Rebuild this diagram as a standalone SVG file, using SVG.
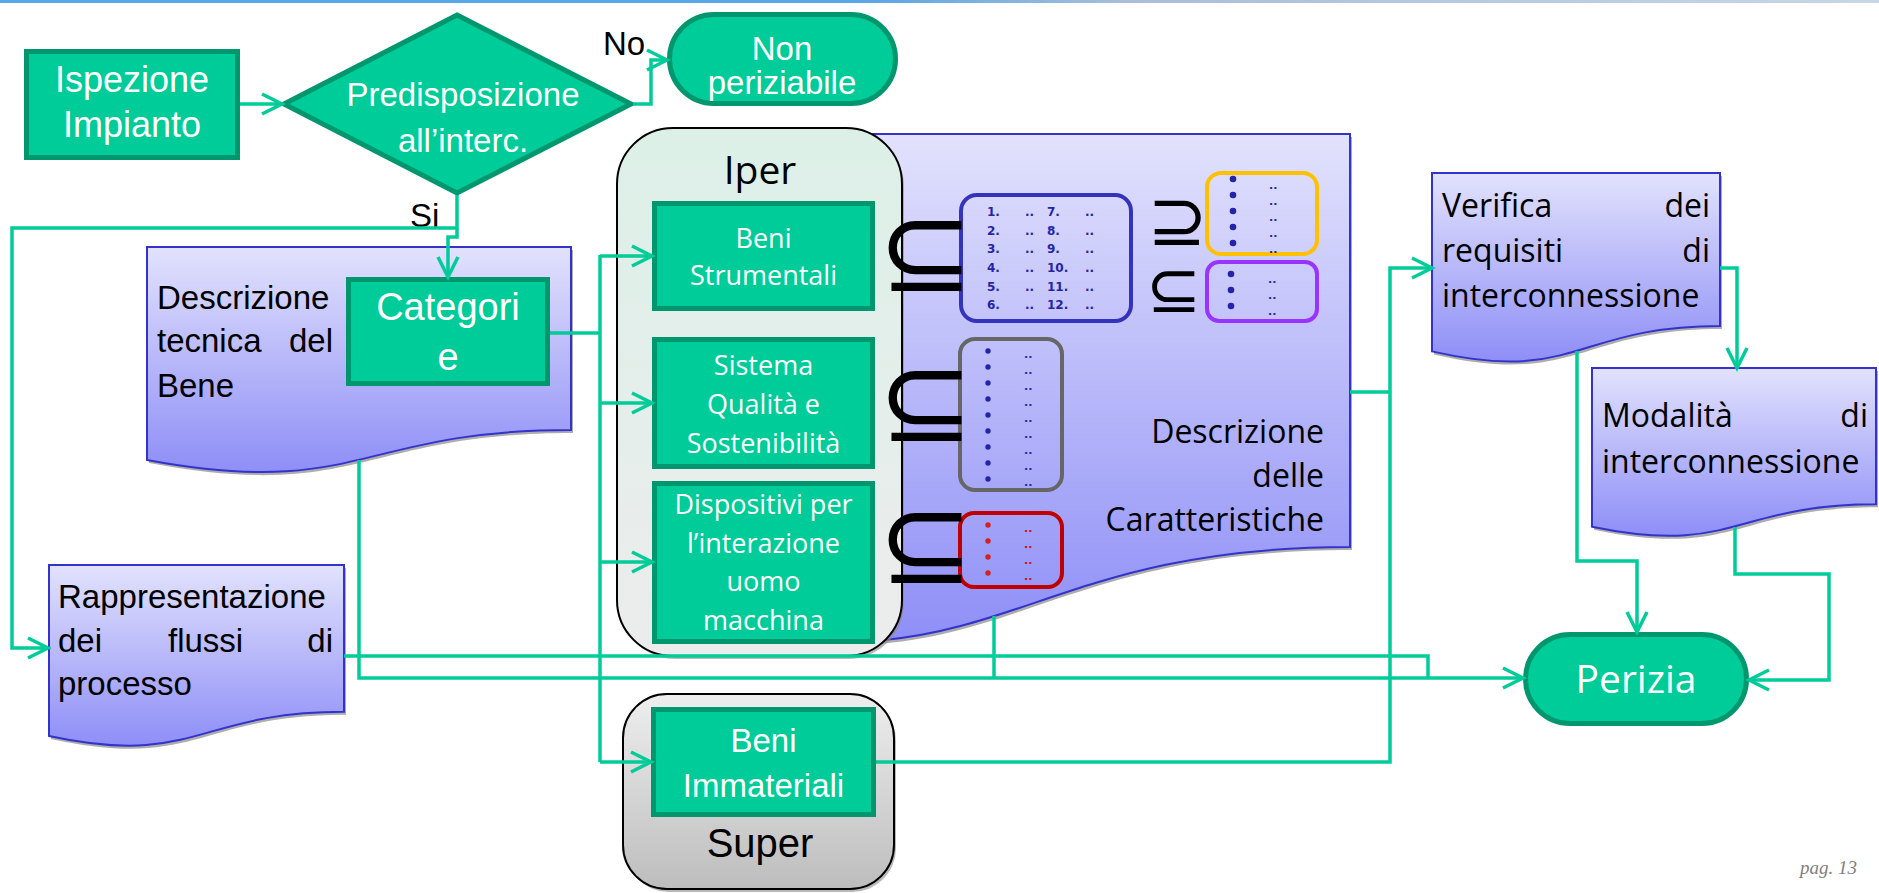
<svg xmlns="http://www.w3.org/2000/svg" width="1879" height="893" viewBox="0 0 1879 893">
<defs>
<style>
.gbox{fill:#00CC99;stroke:#00966E;stroke-width:5}
.wt{fill:#FFFFFF;font-family:"Liberation Sans",Arial,sans-serif}
.wo{fill:#FFFFFF;font-family:"Open Sans",sans-serif}
.bt{fill:#000000;font-family:"Liberation Sans",Arial,sans-serif}
.bo{fill:#000000;font-family:"Open Sans",sans-serif}
.doc{fill:url(#docg);stroke:#3333CC;stroke-width:2}
.shd{fill:#8a8a8a;opacity:0.7}
.con{fill:none;stroke:#00CC99;stroke-width:3.5}
.arr{marker-end:url(#ah)}
.sym{fill:#000;font-family:"DejaVu Sans",sans-serif}
.num{fill:#2424A8;font-family:"DejaVu Sans",sans-serif;font-size:12px;font-weight:bold}
.dd{fill:#2424A8;font-family:"DejaVu Sans",sans-serif;font-size:11px;font-weight:bold}
.ddr{fill:#CC1111;font-family:"DejaVu Sans",sans-serif;font-size:11px;font-weight:bold}
</style>
<linearGradient id="docg" x1="0" y1="0" x2="0" y2="1">
<stop offset="0" stop-color="#E2E2FD"/>
<stop offset="1" stop-color="#8E8EF7"/>
</linearGradient>
<linearGradient id="iperg" x1="0" y1="0" x2="0" y2="1">
<stop offset="0" stop-color="#DCF0E8"/>
<stop offset="1" stop-color="#ECECEC"/>
</linearGradient>
<linearGradient id="superg" x1="0" y1="0" x2="0" y2="1">
<stop offset="0" stop-color="#EEEEEE"/>
<stop offset="1" stop-color="#BDBDBD"/>
</linearGradient>
<linearGradient id="topg" x1="0" y1="0" x2="1" y2="0">
<stop offset="0" stop-color="#5AA6E6"/>
<stop offset="0.46" stop-color="#5AA6E6"/>
<stop offset="0.6" stop-color="#A8BFD8"/>
<stop offset="1" stop-color="#C8D6E6"/>
</linearGradient>
<marker id="ah" viewBox="0 0 24 24" refX="21" refY="12" markerWidth="24" markerHeight="24" orient="auto" markerUnits="userSpaceOnUse" overflow="visible">
<path d="M1,2 L21,12 L1,22" fill="none" stroke="#00CC99" stroke-width="3.5"/>
</marker>
</defs>

<rect x="0" y="0" width="1879" height="3" fill="url(#topg)"/>

<g id="descr-caratteristiche">
<path class="shd" transform="translate(2,3)" d="M650,134 H1350 V547 C1000,547 1000,704 650,615 Z"/>
<path class="doc" d="M650,134 H1350 V547 C1000,547 1000,704 650,615 Z"/>
<text class="bo" font-size="32" text-anchor="end"><tspan x="1324" y="443">Descrizione</tspan><tspan x="1324" y="487">delle</tspan><tspan x="1324" y="531">Caratteristiche</tspan></text>
</g>

<g id="iper">
<rect x="619" y="131" width="285" height="528" rx="56" fill="#8a8a8a" opacity="0.6"/>
<rect x="617" y="128" width="285" height="528" rx="56" fill="url(#iperg)" stroke="#000" stroke-width="2"/>
<text class="bo" font-size="39" x="760" y="184" text-anchor="middle">Iper</text>
</g>

<g id="beni-strumentali">
<rect class="gbox" x="654.5" y="203.5" width="218" height="105"/>
<text class="wo" font-size="27" text-anchor="middle"><tspan x="763.5" y="248">Beni</tspan><tspan x="763.5" y="285">Strumentali</tspan></text>
</g>
<g id="sistema-qualita">
<rect class="gbox" x="654.5" y="339.5" width="218" height="127"/>
<text class="wo" font-size="27" text-anchor="middle"><tspan x="763.5" y="375">Sistema</tspan><tspan x="763.5" y="414">Qualità e</tspan><tspan x="763.5" y="453">Sostenibilità</tspan></text>
</g>
<g id="dispositivi">
<rect class="gbox" x="654.5" y="483.5" width="218" height="158"/>
<text class="wo" font-size="27" text-anchor="middle"><tspan x="763.5" y="514">Dispositivi per</tspan><tspan x="763.5" y="553">l’interazione</tspan><tspan x="763.5" y="591">uomo</tspan><tspan x="763.5" y="630">macchina</tspan></text>
</g>

<g id="super">
<rect x="625" y="697" width="271" height="195" rx="44" fill="#8a8a8a" opacity="0.6"/>
<rect x="623" y="694" width="271" height="195" rx="44" fill="url(#superg)" stroke="#000" stroke-width="2"/>
<text class="bt" font-size="40" x="760" y="857" text-anchor="middle">Super</text>
</g>
<g id="beni-immateriali">
<rect class="gbox" x="653.5" y="709.5" width="220" height="105"/>
<text class="wt" font-size="33" text-anchor="middle"><tspan x="763.5" y="752">Beni</tspan><tspan x="763.5" y="797">Immateriali</tspan></text>
</g>

<g id="set-strumentali">
<rect x="961" y="195" width="170" height="126" rx="16" fill="none" stroke="#3333BB" stroke-width="4"/>
<g class="num">
<text x="987" y="216">1.</text><text x="987" y="235">2.</text><text x="987" y="253">3.</text><text x="987" y="272">4.</text><text x="987" y="291">5.</text><text x="987" y="309">6.</text>
<text x="1047" y="216">7.</text><text x="1047" y="235">8.</text><text x="1047" y="253">9.</text><text x="1047" y="272">10.</text><text x="1047" y="291">11.</text><text x="1047" y="309">12.</text>
<text x="1025" y="216">..</text><text x="1025" y="235">..</text><text x="1025" y="253">..</text><text x="1025" y="272">..</text><text x="1025" y="291">..</text><text x="1025" y="309">..</text>
<text x="1085" y="216">..</text><text x="1085" y="235">..</text><text x="1085" y="253">..</text><text x="1085" y="272">..</text><text x="1085" y="291">..</text><text x="1085" y="309">..</text>
</g>
</g>
<g id="set-yellow">
<rect x="1207" y="173" width="110" height="81" rx="14" fill="none" stroke="#FFC000" stroke-width="4"/>
<g fill="#2424A8"><circle cx="1233" cy="179" r="3.3"/><circle cx="1233" cy="195" r="3.3"/><circle cx="1233" cy="211" r="3.3"/><circle cx="1233" cy="227" r="3.3"/><circle cx="1233" cy="243" r="3.3"/></g>
<g class="dd"><text x="1269" y="189">..</text><text x="1269" y="205">..</text><text x="1269" y="221">..</text><text x="1269" y="237">..</text><text x="1269" y="253">..</text></g>
</g>
<g id="set-purple">
<rect x="1207" y="262" width="110" height="59" rx="12" fill="none" stroke="#9933FF" stroke-width="4"/>
<g fill="#2424A8"><circle cx="1231" cy="274" r="3.3"/><circle cx="1231" cy="290" r="3.3"/><circle cx="1231" cy="306" r="3.3"/></g>
<g class="dd"><text x="1268" y="283">..</text><text x="1268" y="299">..</text><text x="1268" y="315">..</text></g>
</g>
<g id="set-grey">
<rect x="960" y="339" width="102" height="151" rx="15" fill="none" stroke="#666666" stroke-width="4"/>
<g fill="#2424A8"><circle cx="988" cy="351" r="2.7"/><circle cx="988" cy="367" r="2.7"/><circle cx="988" cy="383" r="2.7"/><circle cx="988" cy="399" r="2.7"/><circle cx="988" cy="415" r="2.7"/><circle cx="988" cy="431" r="2.7"/><circle cx="988" cy="447" r="2.7"/><circle cx="988" cy="463" r="2.7"/><circle cx="988" cy="479" r="2.7"/></g>
<g class="dd"><text x="1024" y="358">..</text><text x="1024" y="374">..</text><text x="1024" y="390">..</text><text x="1024" y="406">..</text><text x="1024" y="422">..</text><text x="1024" y="438">..</text><text x="1024" y="454">..</text><text x="1024" y="470">..</text><text x="1024" y="486">..</text></g>
</g>
<g id="set-red">
<rect x="960" y="513" width="102" height="74" rx="14" fill="none" stroke="#C00000" stroke-width="4"/>
<g fill="#D42020"><circle cx="988" cy="525" r="2.7"/><circle cx="988" cy="541" r="2.7"/><circle cx="988" cy="557" r="2.7"/><circle cx="988" cy="573" r="2.7"/></g>
<g class="ddr"><text x="1024" y="532">..</text><text x="1024" y="548">..</text><text x="1024" y="564">..</text><text x="1024" y="580">..</text></g>
</g>

<g id="symbols">
<text class="sym" font-size="114" x="878" y="291" letter-spacing="-30">⊆</text>
<text class="sym" font-size="114" x="878" y="441" letter-spacing="-30">⊆</text>
<text class="sym" font-size="114" x="878" y="583" letter-spacing="-30">⊆</text>
<text class="sym" font-size="72" x="1147" y="245" letter-spacing="-15">⊇</text>
<text class="sym" font-size="66" x="1146" y="312" letter-spacing="-15">⊆</text>
</g>

<g id="descr-tecnica">
<path class="shd" transform="translate(2,3)" d="M147,247 H571 V430 C359,430 359,499.5 147,460 Z"/>
<path class="doc" d="M147,247 H571 V430 C359,430 359,499.5 147,460 Z"/>
<text class="bt" font-size="33" x="157" y="309">Descrizione</text>
<text class="bt" font-size="33" x="157" y="352">tecnica</text>
<text class="bt" font-size="33" x="333" y="352" text-anchor="end">del</text>
<text class="bt" font-size="33" x="157" y="397">Bene</text>
</g>
<g id="categorie">
<rect class="gbox" x="348.5" y="279.5" width="199" height="104"/>
<text class="wt" font-size="38" text-anchor="middle"><tspan x="448" y="320">Categori</tspan><tspan x="448" y="370">e</tspan></text>
</g>

<g id="rappresentazione">
<path class="shd" transform="translate(2,3)" d="M49,565 H344 V711.8 C196.5,711.8 196.5,767.7 49,735.9 Z"/>
<path class="doc" d="M49,565 H344 V711.8 C196.5,711.8 196.5,767.7 49,735.9 Z"/>
<text class="bt" font-size="33" x="58" y="608">Rappresentazione</text>
<text class="bt" font-size="33" x="58" y="652">dei</text>
<text class="bt" font-size="33" x="168" y="652">flussi</text>
<text class="bt" font-size="33" x="333" y="652" text-anchor="end">di</text>
<text class="bt" font-size="33" x="58" y="695">processo</text>
</g>

<g id="verifica">
<path class="shd" transform="translate(2,3)" d="M1432,173 H1720 V326 C1576,326 1576,384.5 1432,351.4 Z"/>
<path class="doc" d="M1432,173 H1720 V326 C1576,326 1576,384.5 1432,351.4 Z"/>
<text class="bo" font-size="32" x="1442" y="217">Verifica</text>
<text class="bo" font-size="32" x="1710" y="217" text-anchor="end">dei</text>
<text class="bo" font-size="32" x="1442" y="262">requisiti</text>
<text class="bo" font-size="32" x="1710" y="262" text-anchor="end">di</text>
<text class="bo" font-size="32" x="1442" y="307">interconnessione</text>
</g>

<g id="modalita">
<path class="shd" transform="translate(2,3)" d="M1592,368 H1876 V504.3 C1734,504.3 1734,556.3 1592,526.8 Z"/>
<path class="doc" d="M1592,368 H1876 V504.3 C1734,504.3 1734,556.3 1592,526.8 Z"/>
<text class="bo" font-size="32" x="1602" y="427">Modalità</text>
<text class="bo" font-size="32" x="1868" y="427" text-anchor="end">di</text>
<text class="bo" font-size="32" x="1602" y="473">interconnessione</text>
</g>

<g id="ispezione">
<rect class="gbox" x="26.5" y="51.5" width="211" height="106"/>
<text class="wt" font-size="36" text-anchor="middle"><tspan x="132" y="92">Ispezione</tspan><tspan x="132" y="137">Impianto</tspan></text>
</g>

<g id="predisposizione">
<polygon class="gbox" points="457,15 631,104 457,193 284,104"/>
<text class="wt" font-size="33" text-anchor="middle"><tspan x="463" y="106">Predisposizione</tspan><tspan x="463" y="152">all’interc.</tspan></text>
</g>

<g id="non-periziabile">
<rect class="gbox" x="669.5" y="14.5" width="226" height="89" rx="44.5"/>
<text class="wt" font-size="33" text-anchor="middle"><tspan x="782" y="60">Non</tspan><tspan x="782" y="94">periziabile</tspan></text>
</g>

<g id="perizia">
<rect class="gbox" x="1525.5" y="634.5" width="221" height="89" rx="44.5"/>
<text class="wo" font-size="39" x="1636" y="693" text-anchor="middle">Perizia</text>
</g>

<g id="labels">
<text class="bt" font-size="33" x="603" y="55">No</text>
<text class="bt" font-size="33" x="410" y="227">Si</text>
</g>

<g id="connectors">
<path class="con arr" d="M240,104 H282"/>
<path class="con arr" d="M633,104 H651 V60 H667"/>
<path class="con arr" d="M457,195 V228 H12 V648 H48"/>
<path class="con arr" d="M457,228 V237 H448 V277"/>
<path class="con" d="M550,333 H600"/>
<path class="con" d="M600,255 V762"/>
<path class="con arr" d="M600,256 H652"/>
<path class="con arr" d="M600,403 H652"/>
<path class="con arr" d="M600,562 H652"/>
<path class="con arr" d="M600,762 H651"/>
<path class="con arr" d="M876,762 H1390 V268 H1432"/>
<path class="con" d="M1350,392 H1390"/>
<path class="con arr" d="M359,460 V678 H1523"/>
<path class="con" d="M344,656 H1428 V678"/>
<path class="con" d="M994,616 V678"/>
<path class="con arr" d="M1720,268 H1737 V368"/>
<path class="con arr" d="M1577,351 V561 H1637 V632"/>
<path class="con arr" d="M1735,527 V574 H1829 V680 H1749"/>
</g>

<text x="1857" y="874" text-anchor="end" font-family="'Liberation Serif',serif" font-style="italic" font-size="19" fill="#7F7F7F">pag. 13</text>
</svg>
